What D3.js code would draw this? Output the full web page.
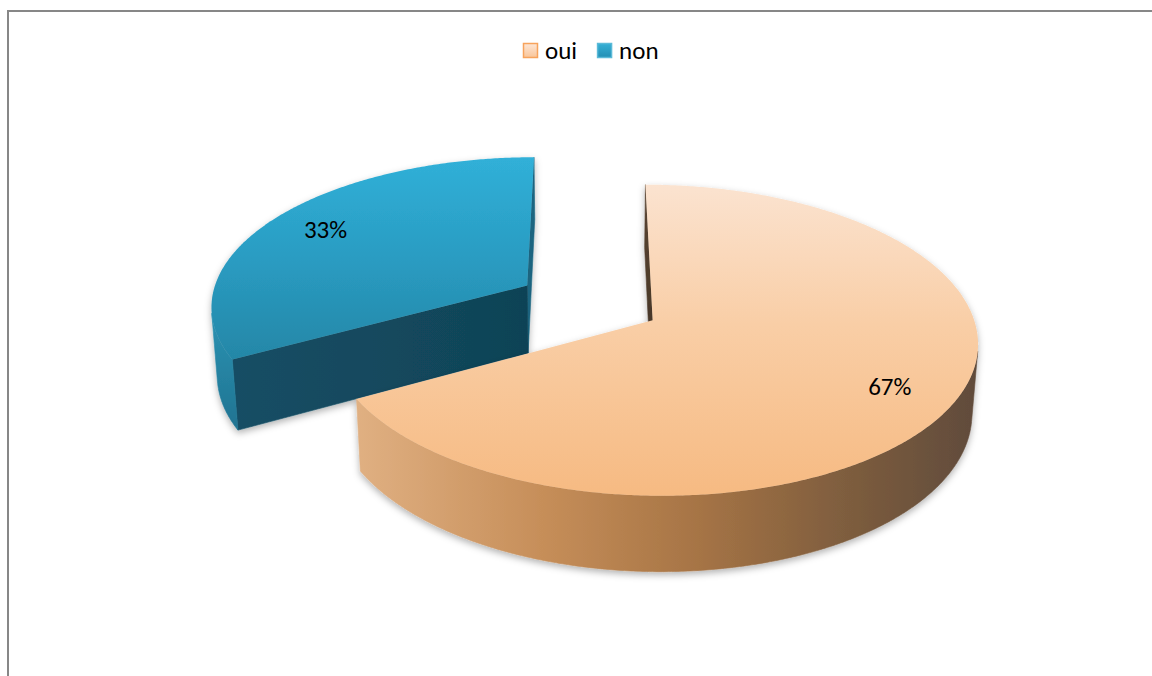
<!DOCTYPE html>
<html>
<head>
<meta charset="utf-8">
<script src="https://cdn.jsdelivr.net/npm/d3@7/dist/d3.min.js"></script>
<style>
  html, body { margin: 0; padding: 0; background: #fff; }
  svg { display: block; }
  text { font-family: Carlito, Calibri, "Open Sans", sans-serif; fill: #000; }
</style>
</head>
<body>
<svg id="chart" width="1152" height="676"></svg>
<script>
// Answers and their shares (percent)
const categories = ["oui", "non"];
const values = [67, 33];

// Camera / extrusion settings for the 3D pie
const view = {
  tilt: 27.1 * Math.PI / 180,
  dist: 7.07,
  fx: 2240,
  fy: 2305,
  cx: 589,
  cy: 302.7,
  thickness: 0.239,
  explode: 0.23,
  labelRadius: 0.8
};

const sinA = Math.sin(view.tilt), cosA = Math.cos(view.tilt);
const camera = [0, view.dist * sinA, view.dist * cosA];

// perspective projection: x right, y up, z toward the viewer
function depthOf(p) { return view.dist - p[1] * sinA - p[2] * cosA; }
function project(p) {
  const d = depthOf(p);
  return [view.cx + view.fx * p[0] / d,
          view.cy + view.fy * (p[2] * sinA - p[1] * cosA) / d];
}
function facing(p, n) {
  return (camera[0] - p[0]) * n[0] + (camera[1] - p[1]) * n[1] + (camera[2] - p[2]) * n[2] > 0;
}

const svg = d3.select("#chart");
const defs = svg.append("defs");

function linear(id, horizontal, stops) {
  const g = defs.append("linearGradient").attr("id", id)
    .attr("x1", 0).attr("y1", 0)
    .attr("x2", horizontal ? 1 : 0).attr("y2", horizontal ? 0 : 1);
  stops.forEach(([o, c]) => g.append("stop").attr("offset", o).attr("stop-color", c));
}

linear("ouiTop", false, [[0, "#fbe3d0"], [0.45, "#f9cea6"], [1, "#f6ba82"]]);
linear("ouiWall", true, [[0, "#e0b082"], [0.3, "#c68e59"], [0.55, "#a67445"], [0.8, "#7c5c3e"], [1, "#604b3b"]]);
linear("ouiCut", false, [[0, "#5b4532"], [1, "#3f3124"]]);
linear("nonTop", false, [[0, "#30b0d8"], [0.5, "#2a9cc2"], [1, "#2487a7"]]);
linear("nonWall", false, [[0, "#2c93b3"], [1, "#1f7391"]]);
linear("nonCut", true, [[0, "#154e65"], [1, "#104356"]]);
linear("ouiKey", false, [[0, "#fde6d6"], [1, "#f9c598"]]);
linear("nonKey", false, [[0, "#35b0d6"], [1, "#238fb4"]]);

const shadow = defs.append("filter").attr("id", "soft")
  .attr("x", "-10%").attr("y", "-10%").attr("width", "120%").attr("height", "130%");
shadow.append("feDropShadow").attr("dx", 0).attr("dy", 3)
  .attr("stdDeviation", 3.5).attr("flood-color", "#000").attr("flood-opacity", 0.3);

const styles = [
  { top: "url(#ouiTop)", wall: "url(#ouiWall)", cutStart: "url(#ouiCut)", cutEnd: "url(#ouiCut)",
    key: "url(#ouiKey)", keyStroke: "#f7a35c" },
  { top: "url(#nonTop)", wall: "url(#nonWall)", cutStart: "url(#nonCut)", cutEnd: "#1b6580",
    key: "url(#nonKey)", keyStroke: "#5bbad8" }
];

// chart frame
svg.append("rect")
  .attr("x", 8).attr("y", 11).attr("width", 1300).attr("height", 900)
  .attr("fill", "none").attr("stroke", "#878787").attr("stroke-width", 2);

const arcs = d3.pie().sort(null).value(d => d)(values);
const H = view.thickness;
const line = d3.line();

const slices = arcs.map((a, i) => {
  const mid = (a.startAngle + a.endAngle) / 2;
  const off = [view.explode * Math.sin(mid), 0, -view.explode * Math.cos(mid)];
  const rim = (t, y) => [off[0] + Math.sin(t), y, off[2] - Math.cos(t)];
  const apexTop = [off[0], 0, off[2]], apexBot = [off[0], -H, off[2]];
  const steps = Math.max(8, Math.ceil((a.endAngle - a.startAngle) / (Math.PI / 360)));
  const angles = d3.range(steps + 1).map(k => a.startAngle + (a.endAngle - a.startAngle) * k / steps);

  const faces = [];
  // curved outer wall, split into visible runs
  let run = [];
  const flush = () => {
    if (run.length > 1) {
      const pts = run.map(t => rim(t, 0)).concat(run.slice().reverse().map(t => rim(t, -H)));
      const mt = run[Math.floor(run.length / 2)];
      faces.push({ pts, fill: styles[i].wall, depth: depthOf(rim(mt, -H / 2)) });
    }
    run = [];
  };
  for (let k = 0; k < steps; k++) {
    const tm = (angles[k] + angles[k + 1]) / 2;
    const n = [Math.sin(tm), 0, -Math.cos(tm)];
    if (facing(rim(tm, -H / 2), n)) {
      if (!run.length) run.push(angles[k]);
      run.push(angles[k + 1]);
    } else flush();
  }
  flush();

  // the two radial cut faces
  const cut = (t, n, fill) => {
    const pts = [apexTop, rim(t, 0), rim(t, -H), apexBot];
    const c = [(apexTop[0] + rim(t, 0)[0]) / 2, -H / 2, (apexTop[2] + rim(t, 0)[2]) / 2];
    if (facing(c, n)) faces.push({ pts, fill, depth: depthOf(c) });
  };
  cut(a.startAngle, [-Math.cos(a.startAngle), 0, -Math.sin(a.startAngle)], styles[i].cutStart);
  cut(a.endAngle, [Math.cos(a.endAngle), 0, Math.sin(a.endAngle)], styles[i].cutEnd);

  faces.sort((p, q) => q.depth - p.depth);
  const top = [apexTop].concat(angles.map(t => rim(t, 0)));
  const lr = view.labelRadius;
  const labelAt = project([off[0] + lr * Math.sin(mid), 0, off[2] - lr * Math.cos(mid)]);
  return { i, faces, top, labelAt, depth: depthOf(apexTop) };
});

slices.sort((p, q) => q.depth - p.depth);

const pieLayer = svg.append("g");
slices.forEach(s => {
  const g = pieLayer.append("g").attr("filter", "url(#soft)");
  s.faces.forEach(f => {
    g.append("path").attr("d", line(f.pts.map(project)) + "Z").attr("fill", f.fill)
      .attr("stroke", f.fill).attr("stroke-width", 0.6).attr("stroke-linejoin", "round");
  });
  g.append("path").attr("d", line(s.top.map(project)) + "Z").attr("fill", styles[s.i].top);
});

// value labels on the top faces
slices.forEach(s => {
  pieLayer.append("text")
    .attr("x", s.labelAt[0]).attr("y", s.labelAt[1])
    .attr("text-anchor", "middle").attr("dominant-baseline", "central")
    .attr("font-size", 25)
    .text(values[s.i] + "%");
});

// legend
const legend = svg.append("g").attr("transform", "translate(523,43)");
let lx = 0;
categories.forEach((c, i) => {
  const item = legend.append("g").attr("transform", `translate(${lx},0)`);
  item.append("rect").attr("x", 0.5).attr("y", 0.5).attr("width", 14).attr("height", 14)
    .attr("fill", styles[i].key).attr("stroke", styles[i].keyStroke).attr("stroke-width", 1.5);
  const t = item.append("text").attr("x", 22).attr("y", 16).attr("font-size", 25).text(c);
  lx += 22 + t.node().getComputedTextLength() + 20;
});
</script>
</body>
</html>
